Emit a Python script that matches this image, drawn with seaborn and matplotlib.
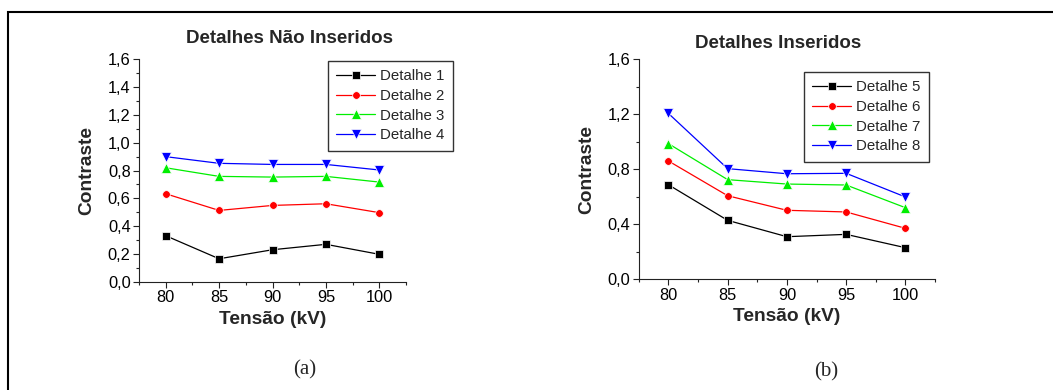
import pandas as pd
import matplotlib
matplotlib.use("Agg")
import matplotlib.pyplot as plt
import seaborn as sns
from matplotlib.ticker import MultipleLocator, FuncFormatter
from matplotlib.patches import Rectangle

# Data
tensao = [80, 85, 90, 95, 100]

detalhe_1 = [0.331, 0.165, 0.230, 0.269, 0.197]
detalhe_2 = [0.633, 0.513, 0.549, 0.561, 0.497]
detalhe_3 = [0.820, 0.758, 0.753, 0.758, 0.717]
detalhe_4 = [0.900, 0.852, 0.844, 0.844, 0.804]

detalhe_5 = [0.688, 0.429, 0.310, 0.327, 0.230]
detalhe_6 = [0.861, 0.608, 0.502, 0.490, 0.371]
detalhe_7 = [0.987, 0.725, 0.693, 0.686, 0.521]
detalhe_8 = [1.207, 0.805, 0.768, 0.771, 0.599]

names_a = ["Detalhe 1", "Detalhe 2", "Detalhe 3", "Detalhe 4"]
names_b = ["Detalhe 5", "Detalhe 6", "Detalhe 7", "Detalhe 8"]
colors = ["#000000", "#ff0000", "#00ee00", "#0000ff"]
markers = ["s", "o", "^", "v"]


def long_df(names, series):
    rows = []
    for name, vals in zip(names, series):
        for x, y in zip(tensao, vals):
            rows.append({"Tensao": x, "Contraste": y, "Serie": name})
    return pd.DataFrame(rows)


df_a = long_df(names_a, [detalhe_1, detalhe_2, detalhe_3, detalhe_4])
df_b = long_df(names_b, [detalhe_5, detalhe_6, detalhe_7, detalhe_8])

sns.set_theme(style="ticks")
plt.rcParams["font.family"] = ["Liberation Sans", "DejaVu Sans"]

fig = plt.figure(figsize=(10.53, 3.9), dpi=100)

# outer frame of the figure panel
fig.add_artist(Rectangle((8 / 1053, -0.1), 1.2, 1 - 12 / 390 + 0.1,
                         transform=fig.transFigure, fill=False,
                         edgecolor="black", linewidth=1.5))

ax_a = fig.add_axes([0.132, 0.2777, 0.2536, 0.570])
ax_b = fig.add_axes([0.6066, 0.2838, 0.2814, 0.564])

comma = FuncFormatter(lambda v, p: f"{v:.1f}".replace(".", ","))


def draw(ax, df, names, title, title_x, title_pad, ystep, leg_anchor):
    sns.lineplot(data=df, x="Tensao", y="Contraste", hue="Serie", style="Serie",
                 hue_order=names, style_order=names,
                 palette=dict(zip(names, colors)),
                 markers=dict(zip(names, markers)),
                 dashes=False, linewidth=0.9, markersize=5.5,
                 markeredgewidth=0.5, ax=ax)
    # triangles look smaller than squares at the same size
    for line in ax.lines:
        if line.get_marker() in ("^", "v"):
            line.set_markersize(6.5)
    ax.set_xlim(77.5, 102.5)
    ax.set_ylim(0, 1.6)
    ax.xaxis.set_major_locator(MultipleLocator(5))
    ax.xaxis.set_minor_locator(MultipleLocator(2.5))
    ax.yaxis.set_major_locator(MultipleLocator(ystep))
    ax.yaxis.set_minor_locator(MultipleLocator(ystep / 2))
    ax.yaxis.set_major_formatter(comma)
    ax.tick_params(which="major", direction="out", length=4, width=0.8,
                   labelsize=11.8, pad=2, colors="#222222", labelcolor="black")
    ax.tick_params(which="minor", direction="out", length=2.5, width=0.8,
                   colors="#222222")
    for s in ["top", "right"]:
        ax.spines[s].set_visible(False)
    for s in ["left", "bottom"]:
        ax.spines[s].set_linewidth(0.8)
        ax.spines[s].set_color("#222222")
    ax.set_xlabel("Tensão (kV)", fontsize=13.8, fontweight="bold", labelpad=4)
    ax.set_ylabel("Contraste", fontsize=13.8, fontweight="bold", labelpad=9)
    ax.set_title(title, fontsize=13.5, fontweight="bold", x=title_x,
                 pad=title_pad)
    leg = ax.legend(loc="upper right", bbox_to_anchor=leg_anchor,
                    bbox_transform=fig.transFigure, fontsize=10.8,
                    frameon=True, fancybox=False, borderpad=0.55,
                    borderaxespad=0, labelspacing=0.38, handlelength=2.6,
                    handletextpad=0.35)
    leg.get_frame().set_edgecolor("black")
    leg.get_frame().set_linewidth(1.0)
    for h in leg.legend_handles:
        if h.get_marker() in ("^", "v"):
            h.set_markersize(6.5)


draw(ax_a, df_a, names_a, "Detalhes Não Inseridos", 0.562, 12, 0.2,
     (453 / 1053, 1 - 61 / 390))
draw(ax_b, df_b, names_b, "Detalhes Inseridos", 0.47, 8.5, 0.4,
     (929 / 1053, 1 - 72 / 390))

fig.text(305 / 1053, 1 - 370 / 390, "(a)", ha="center", va="center",
         fontsize=15, family=["Liberation Serif", "DejaVu Serif"])
fig.text(826 / 1053, 1 - 372 / 390, "(b)", ha="center", va="center",
         fontsize=15, family=["Liberation Serif", "DejaVu Serif"])

fig.savefig("out.png", dpi=100)
